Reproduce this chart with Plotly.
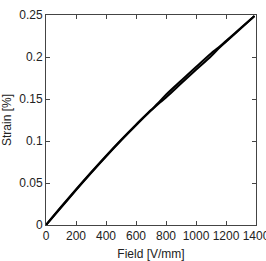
import plotly.graph_objects as go

# Loading branch (field in V/mm, strain in %)
field_up = [0, 100, 200, 300, 400, 500, 600, 700, 750, 800, 900, 1000, 1100, 1150, 1200, 1300, 1390]
strain_up = [0.0000, 0.0208, 0.0416, 0.0619, 0.0816, 0.1006, 0.1188, 0.1362, 0.1444, 0.1518, 0.1684, 0.1848, 0.2010, 0.2101, 0.2183, 0.2342, 0.2487]

# Unloading branch
field_down = [1390, 1300, 1200, 1150, 1100, 1000, 900, 800, 750, 700, 600, 500, 400, 300, 200, 100, 0]
strain_down = [0.2489, 0.2348, 0.2189, 0.2111, 0.2042, 0.1880, 0.1716, 0.1550, 0.1454, 0.1368, 0.1194, 0.1012, 0.0822, 0.0625, 0.0422, 0.0214, 0.0000]

x_ticks = [0, 200, 400, 600, 800, 1000, 1200, 1400]
y_ticks = [0, 0.05, 0.1, 0.15, 0.2, 0.25]
y_tick_text = ["0", "0.05", "0.1", "0.15", "0.2", "0.25"]

FONT = "Liberation Sans, Arial"

fig = go.Figure()
fig.add_trace(go.Scatter(x=field_up, y=strain_up, mode="lines", line_shape="spline",
                         line=dict(color="black", width=2.1), showlegend=False))
fig.add_trace(go.Scatter(x=field_down, y=strain_down, mode="lines", line_shape="spline",
                         line=dict(color="black", width=2.1), showlegend=False))

axis_common = dict(
    showgrid=False, zeroline=False, showline=True, linecolor="#444", linewidth=1,
    ticks="inside", ticklen=4, tickcolor="#444", mirror="ticks",
    tickfont=dict(family=FONT, size=12, color="#222"),
    ticklabeloverflow="allow", tickangle=0, automargin=False,
)

fig.update_layout(
    width=266, height=261,
    margin=dict(l=46, r=10, t=15, b=36),
    paper_bgcolor="white", plot_bgcolor="white",
    xaxis=dict(range=[0, 1400], tickvals=x_ticks,
               title=dict(text="Field [V/mm]", font=dict(family=FONT, size=12, color="#222"), standoff=10),
               **axis_common),
    yaxis=dict(range=[0, 0.25], tickvals=y_ticks, ticktext=y_tick_text,
               title=dict(text="Strain [%]", font=dict(family=FONT, size=12, color="#222"), standoff=5),
               **axis_common),
)

fig.write_html("out.html")
